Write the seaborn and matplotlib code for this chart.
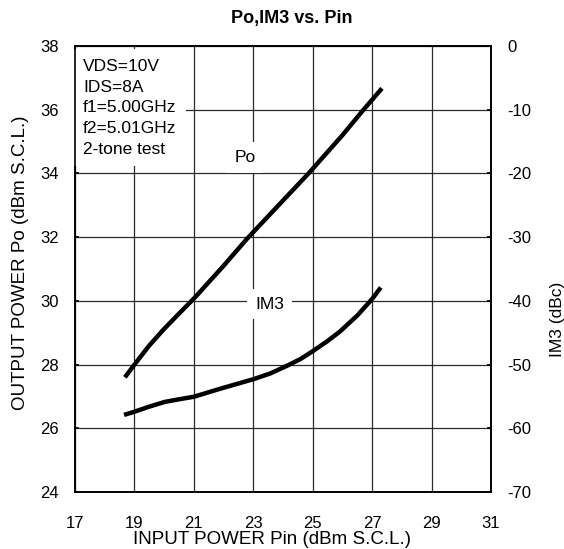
import matplotlib
matplotlib.use("Agg")
import matplotlib.pyplot as plt
import seaborn as sns
import pandas as pd

# data
pin_po = [18.68, 19.0, 19.5, 20.0, 20.5, 21.0, 22.0, 22.79, 24.0, 24.86, 26.0, 26.71, 27.33]
po = [27.6, 28.0, 28.6, 29.12, 29.6, 30.07, 31.1, 31.95, 33.15, 34.0, 35.2, 36.0, 36.67]
pin_im3 = [18.65, 19.0, 19.5, 20.03, 20.5, 21.0, 21.88, 23.0, 23.57, 24.13, 24.6, 25.0, 25.5, 25.92, 26.5, 27.0, 27.29]
im3 = [-57.9, -57.4, -56.6, -55.85, -55.45, -55.05, -53.8, -52.3, -51.4, -50.2, -49.1, -47.9, -46.3, -44.8, -42.3, -39.7, -37.9]

x_ticks = [17, 19, 21, 23, 25, 27, 29, 31]
y_left_ticks = [24, 26, 28, 30, 32, 34, 36, 38]
y_right_ticks = [0, -10, -20, -30, -40, -50, -60, -70]

conditions = ["VDS=10V", "IDS=8A", "f1=5.00GHz", "f2=5.01GHz", "2-tone test"]

sns.set_theme(style="white")
plt.rcParams["font.family"] = ["Liberation Sans", "DejaVu Sans"]

fig = plt.figure(figsize=(5.64, 5.49), dpi=100)
ax = fig.add_axes([75 / 564, 1 - 492 / 549, 416 / 564, 446 / 549])
ax2 = ax.twinx()

df_po = pd.DataFrame({"Pin": pin_po, "Po": po})
df_im = pd.DataFrame({"Pin": pin_im3, "IM3": im3})

sns.lineplot(data=df_po, x="Pin", y="Po", ax=ax, color="black", lw=3.2,
             solid_capstyle="butt", solid_joinstyle="round", zorder=5)
sns.lineplot(data=df_im, x="Pin", y="IM3", ax=ax2, color="black", lw=3.2,
             solid_capstyle="butt", solid_joinstyle="round", zorder=5)

ax.set_xlim(17, 31)
ax.set_ylim(24, 38)
ax2.set_ylim(-70, 0)
ax.set_xticks(x_ticks)
ax.set_yticks(y_left_ticks)
ax2.set_yticks(y_right_ticks)
ax.set_xticklabels([str(v) for v in x_ticks])
ax.set_yticklabels([str(v) for v in y_left_ticks])
ax2.set_yticklabels([str(v) for v in y_right_ticks])

ax.grid(True, color="#2a2a2a", lw=0.9)
ax.set_axisbelow(True)
ax2.grid(False)

for a in (ax, ax2):
    for s in a.spines.values():
        s.set_color("black")
        s.set_linewidth(1.2)

ax.tick_params(axis="x", direction="in", length=0, pad=17.6, labelsize=12, colors="black")
ax.tick_params(axis="y", direction="in", length=3, pad=11.5, labelsize=12, colors="black")
ax2.tick_params(axis="y", direction="in", length=3, pad=11.5, labelsize=12, colors="black")

ax.set_xlabel("INPUT POWER Pin (dBm S.C.L.)", fontsize=13.5, color="black")
ax.xaxis.set_label_coords((272 - 75) / 416, -0.0865)
ax.set_ylabel("OUTPUT POWER Po (dBm S.C.L.)", fontsize=13.5, color="black")
ax.yaxis.set_label_coords(-0.1106, (492 - 263) / 446)
ax2.set_ylabel("IM3 (dBc)", fontsize=12.5, color="black")
ax2.yaxis.set_label_coords(1.142, (492 - 319) / 446)

fig.text(292 / 564, 1 - 18 / 549, "Po,IM3 vs. Pin", ha="center", va="center",
         fontsize=13, fontweight="bold", color="black")

ax.text(17.27, 37.6, "\n".join(conditions), ha="left", va="top", fontsize=12.5,
        linespacing=1.48, color="black", zorder=4,
        bbox=dict(boxstyle="square,pad=0.55", fc="white", ec="none"))
ax.text(22.72, 34.5, "Po", ha="center", va="center", fontsize=12.5, color="black",
        zorder=4, bbox=dict(boxstyle="square,pad=0.45", fc="white", ec="none"))
ax.text(23.55, 29.9, "IM3", ha="center", va="center", fontsize=12.5, color="black",
        zorder=4, bbox=dict(boxstyle="square,pad=0.45", fc="white", ec="none"))

fig.savefig("out.png", dpi=100)
